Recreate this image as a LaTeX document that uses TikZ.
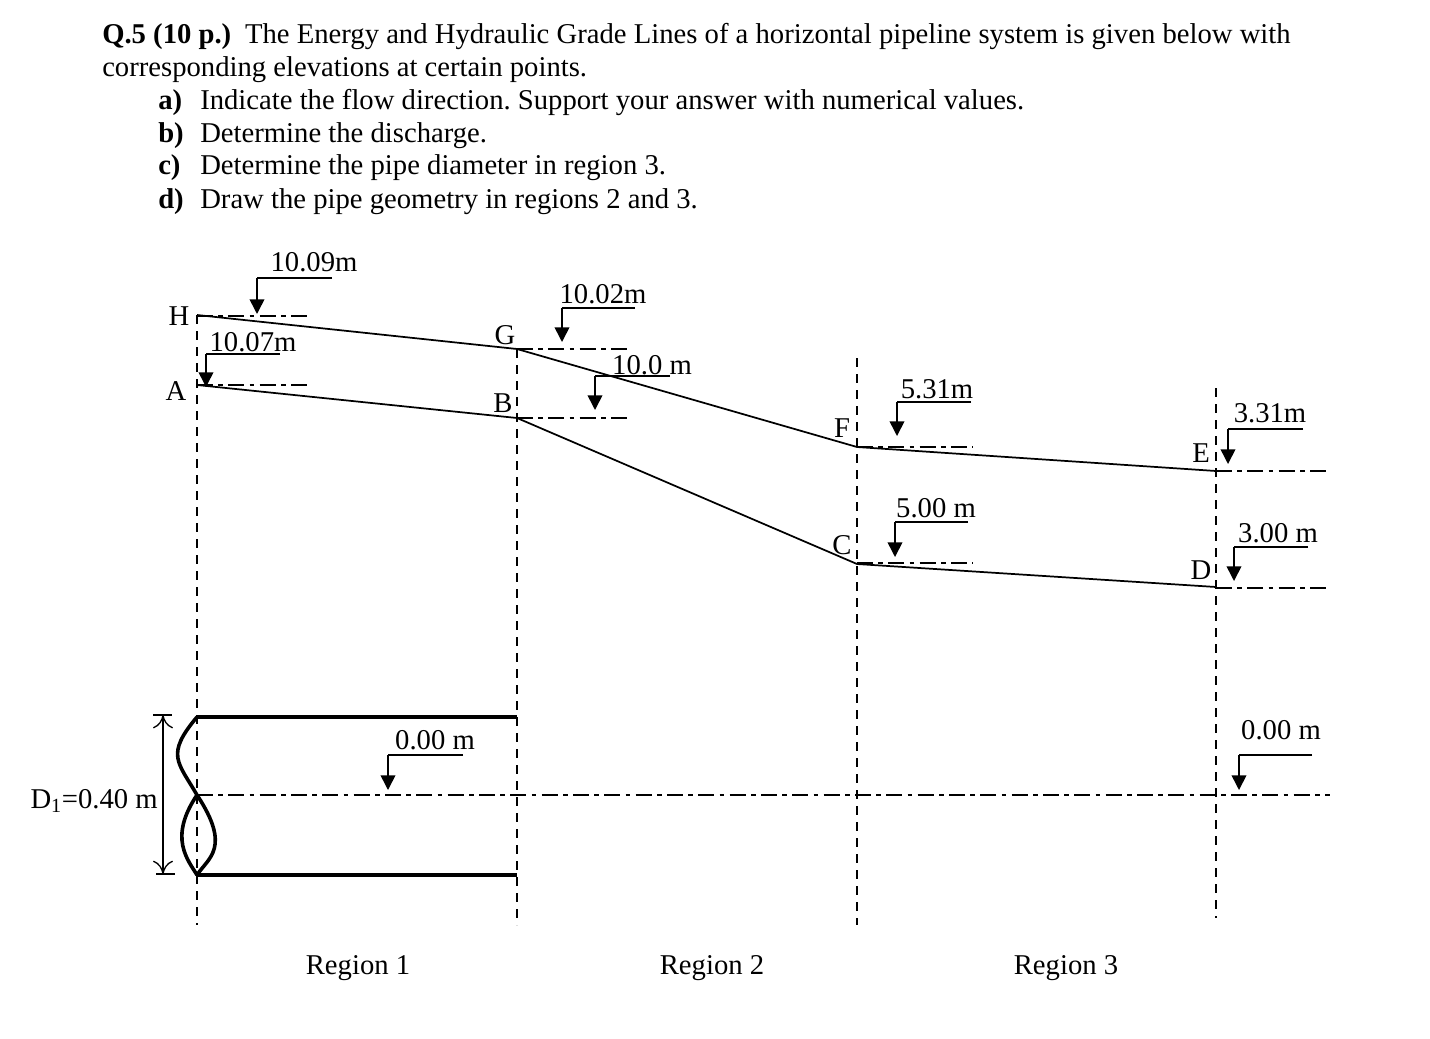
\documentclass[tikz,border=0pt]{standalone}
\usepackage{fontspec}
\setmainfont{Liberation Serif}
\usetikzlibrary{arrows.meta}
\tikzset{%
  gradeline/.style = {line width=1.3pt},
  pipeline/.style = {line width=2.7pt},
  section/.style = {line width=1.5pt,dash pattern=on 7pt off 5pt},
  datum/.style = {line width=1.3pt,dash pattern=on 12pt off 4pt on 3.5pt off 4pt},
  shelf/.style = {line width=1pt},
  levelarrow/.style = {-{Triangle[length=11pt,width=11pt]},line width=1.2pt},
  dimarrow/.style = {{To[length=10pt,width=15pt]}-{To[length=10pt,width=15pt]},line width=1pt},
  t/.style = {inner sep=0pt,font=\fontsize{21.5}{25}\selectfont\frenchspacing},
  q/.style = {t,anchor=base west}
}
\begin{document}
\begin{tikzpicture}[x=0.75pt,y=-0.75pt]
\useasboundingbox (0,0) rectangle (1430,1038);
% question text
\node[q] (qhead) at (102,44) {\textbf{Q.5 (10 p.)}\hspace{5pt} The Energy and Hydraulic Grade Lines of a horizontal pipeline system is given below with};
\node[q] (qnext) at (102,77) {corresponding elevations at certain points.};
\foreach \nm/\yy/\lett/\txt in {qa/110/a)/Indicate the flow direction. Support your answer with numerical values.,
    qb/142.5/b)/Determine the discharge.,
    qc/175/c)/Determine the pipe diameter in region 3.,
    qd/208.5/d)/Draw the pipe geometry in regions 2 and 3.}{
  \node[q] (\nm l) at (158,\yy) {\textbf{\lett}};
  \node[q] (\nm) at (200,\yy) {\txt};
}
% points on the grade lines
\coordinate (H) at (197,315);
\coordinate (G) at (517,349);
\coordinate (F) at (857,447);
\coordinate (E) at (1216,471);
\coordinate (A) at (197,385);
\coordinate (B) at (517,418);
\coordinate (C) at (857,564);
\coordinate (D) at (1216,587);
\draw[gradeline] (H) -- (G) -- (F) -- (E);
\draw[gradeline] (A) -- (B) -- (C) -- (D);
\node[t] (lH) at (179,316) {H};
\node[t] (lA) at (176,391) {A};
\node[t] (lG) at (505,335) {G};
\node[t] (lB) at (503,403) {B};
\node[t] (lF) at (842,428) {F};
\node[t] (lC) at (842,545) {C};
\node[t] (lE) at (1201,453) {E};
\node[t] (lD) at (1201,570) {D};
% section lines
\foreach \nm/\xx/\ya/\yb in {s1/197/315/925,s2/517/349/925,s3/857/358/925,s4/1216/388/918}{
  \coordinate (\nm t) at (\xx,\ya);
  \coordinate (\nm b) at (\xx,\yb);
  \draw[section] (\nm t) -- (\nm b);
}
% elevation lines
\foreach \nm/\xa/\yy/\xb in {dH/197/316/310,dA/197/385/312,dG/517/349/630,dB/517/418/632,dF/857/447/973,dC/857/563/973,dE/1216/471/1328,dD/1216/588/1328,dz/197/795/1330}{
  \coordinate (\nm a) at (\xa,\yy);
  \coordinate (\nm b) at (\xb,\yy);
  \draw[datum] (\nm a) -- (\nm b);
}
% elevation marks
\foreach \nm/\xa/\xb/\ya/\yb/\tx/\ty/\txt in {
    m1/257/332/278/314/314/262/10.09m,
    m2/206/280/354/387/253/342/10.07m,
    m3/562/635/308/342/603/294/10.02m,
    m4/595/670/376/410/652/365/10.0 m,
    m5/897/971/402/436/937/389/5.31m,
    m6/895/968/522/557/936/508/5.00 m,
    m7/1228/1303/429/464/1270/413/3.31m,
    m8/1234/1308/547/581/1278/533/3.00 m,
    m9/388/463/755/790/435/740/0.00 m,
    m10/1239/1312/755/790/1281/730/0.00 m}{
  \coordinate (\nm e) at (\xb,\ya);
  \coordinate (\nm k) at (\xa,\ya);
  \coordinate (\nm p) at (\xa,\yb);
  \draw[shelf] (\nm e) -- (\nm k);
  \draw[levelarrow] (\nm k) -- (\nm p);
  \node[t] (\nm) at (\tx,\ty) {\txt};
}
% pipe in region 1
\coordinate (pt) at (197,717);
\coordinate (pm) at (197,795);
\coordinate (pb) at (197,875);
\coordinate (qt) at (517,717);
\coordinate (qb) at (517,875);
\draw[pipeline] (pt) -- (qt);
\draw[pipeline] (pb) -- (qb);
\draw[pipeline] (pt) .. controls (165,755) and (178,762) .. (pm);
\draw[pipeline] (pm) .. controls (232,848) and (208,858) .. (pb);
\draw[pipeline] (pm) .. controls (168,838) and (188,860) .. (pb);
% diameter
\coordinate (dt1) at (153,715);
\coordinate (dt2) at (172,715);
\coordinate (db1) at (156,874);
\coordinate (db2) at (175,874);
\coordinate (dt) at (163,715);
\coordinate (db) at (163,874);
\draw[shelf] (dt1) -- (dt2);
\draw[shelf] (db1) -- (db2);
\draw[dimarrow] (dt) -- (db);
\node[t,anchor=east] (dia) at (158,801) {D\textsubscript{1}=0.40 m};
% regions
\node[t] (r1) at (358,968) {Region 1};
\node[t] (r2) at (712,968) {Region 2};
\node[t] (r3) at (1066,968) {Region 3};
\end{tikzpicture}
\end{document}
